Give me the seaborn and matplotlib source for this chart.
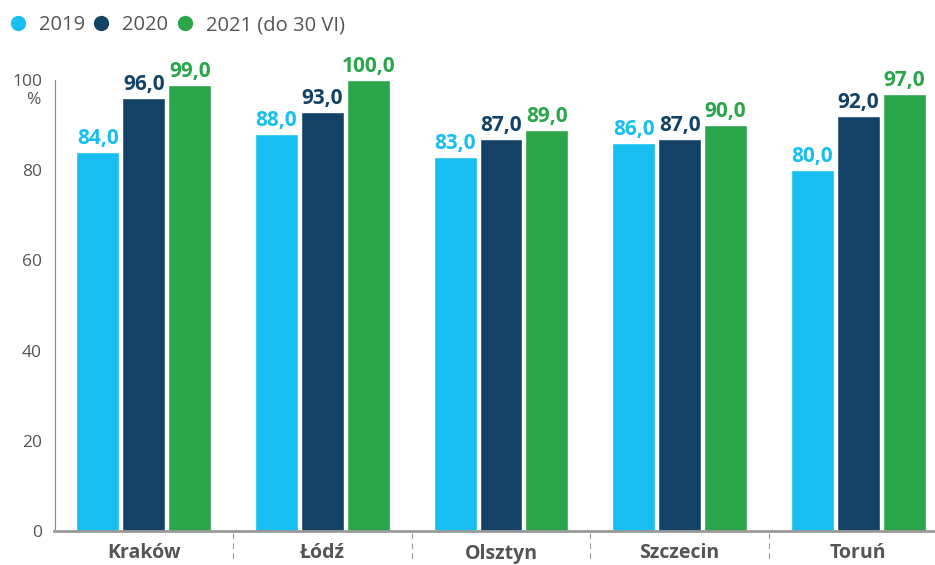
import pandas as pd
import matplotlib.pyplot as plt
import seaborn as sns
from matplotlib.lines import Line2D

# data
cities = ['Kraków', 'Łódź', 'Olsztyn', 'Szczecin', 'Toruń']
years = ['2019', '2020', '2021 (do 30 VI)']
v2019 = [84.0, 88.0, 83.0, 86.0, 80.0]
v2020 = [96.0, 93.0, 87.0, 87.0, 92.0]
v2021 = [99.0, 100.0, 89.0, 90.0, 97.0]
colors = ['#17bff0', '#134266', '#2ba54a']

df = pd.DataFrame({'city': cities * 3,
                   'year': [years[0]] * 5 + [years[1]] * 5 + [years[2]] * 5,
                   'value': v2019 + v2020 + v2021})

sns.set_style('white')
plt.rcParams['font.family'] = ['Open Sans', 'DejaVu Sans']
grey = '#555555'

fig = plt.figure(figsize=(9.35, 5.65), dpi=100)
ax = fig.add_axes([54.5 / 935, 1 - 531 / 565, 1 - 54.5 / 935, 451 / 565])

sns.barplot(data=df, x='city', y='value', hue='year', palette=colors,
            width=0.772, gap=0.065, ax=ax, legend=False, saturation=1)

ax.set_ylim(0, 100)
ax.set_xlim(-0.5, 4.43)
ax.set_xlabel('')
ax.set_ylabel('')
ax.set_yticks([0, 20, 40, 60, 80, 100])
ax.tick_params(axis='y', colors=grey, labelsize=12.5, length=6, width=0.8, direction='out', pad=3)
ax.tick_params(axis='x', length=0, pad=9)
for lab in ax.get_xticklabels():
    lab.set_fontweight('bold')
    lab.set_color(grey)
    lab.set_fontsize(14)

for s in ['top', 'right']:
    ax.spines[s].set_visible(False)
ax.spines['left'].set_color('#888888')
ax.spines['left'].set_linewidth(0.8)
ax.spines['bottom'].set_color('#999999')
ax.spines['bottom'].set_linewidth(2)

# value labels
for cont, col in zip(ax.containers, colors):
    ax.bar_label(cont, labels=[f'{v:.1f}'.replace('.', ',') for v in cont.datavalues],
                 color=col, fontweight='bold', fontsize=15, padding=2, clip_on=False)

# dashed separators under the axis
for xs in [0.5, 1.5, 2.5, 3.5]:
    ax.plot([xs, xs], [-0.5, -6.5], color='#999999', lw=0.8, ls=(0, (5, 4)), clip_on=False)

ax.text(-0.5 - 21 / 178.7, 95.5, '%', color=grey, fontsize=12.5, ha='center', va='center',
        clip_on=False)

handles = [Line2D([], [], marker='o', ls='', color=c, markersize=10) for c in colors]
leg = fig.legend(handles, years, loc='upper left', bbox_to_anchor=(-0.011, 1.005), ncol=3,
                 frameon=False, fontsize=14.5, handletextpad=0.55, columnspacing=0.3, handlelength=1)
for t in leg.get_texts():
    t.set_color(grey)

fig.savefig('out.png', dpi=100)
